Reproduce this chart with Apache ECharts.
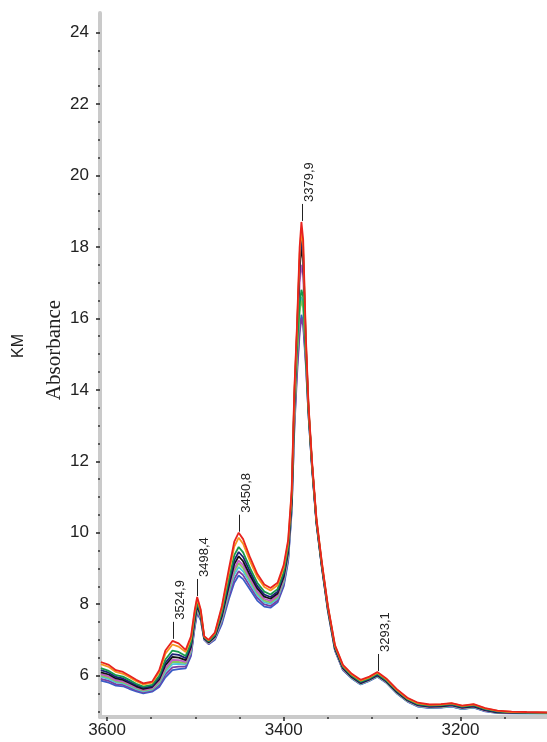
<!DOCTYPE html>
<html>
<head>
<meta charset="utf-8">
<script src="https://cdn.jsdelivr.net/npm/echarts@6/dist/echarts.min.js"></script>
<style>
html,body{margin:0;padding:0;background:#fff;}
#chart{width:547px;height:742px;}
</style>
</head>
<body>
<div id="chart"></div>
<script>
// ---- Data ----
const wavenumber = [3607,3598,3590,3582,3575,3567,3559,3549,3541,3534,3526,3519,3511,3505,3501,3498,3494,3490,3485,3478,3470,3462,3456,3451,3446,3438,3430,3422,3415,3407,3400,3395,3391,3388,3385,3382,3380,3378,3375,3372,3368,3363,3357,3350,3342,3333,3323,3313,3303,3294,3284,3272,3260,3248,3235,3222,3210,3198,3185,3172,3158,3142,3125,3102];

const sRed = [6.38,6.3,6.15,6.1,6.0,5.88,5.78,5.83,6.15,6.7,6.97,6.9,6.72,7.1,7.8,8.2,7.85,7.1,7.0,7.2,7.95,9.0,9.75,10.0,9.82,9.3,8.85,8.55,8.45,8.6,9.1,9.8,11.2,14.0,15.8,18.0,18.7,18.2,15.5,13.6,12.0,10.4,9.2,7.95,6.85,6.3,6.05,5.88,5.97,6.1,5.92,5.62,5.38,5.24,5.19,5.2,5.23,5.16,5.2,5.09,5.02,4.99,4.98,4.97];
const sOrange = [6.32,6.24,6.1,6.05,5.96,5.84,5.75,5.8,6.09,6.61,6.87,6.81,6.66,7.03,7.74,8.15,7.81,7.09,6.99,7.18,7.89,8.9,9.61,9.86,9.69,9.19,8.76,8.48,8.38,8.53,9.03,9.73,11.13,13.9,15.7,17.8,18.5,18.0,15.4,13.55,11.97,10.38,9.18,7.93,6.83,6.28,6.03,5.86,5.95,6.08,5.9,5.6,5.36,5.22,5.18,5.19,5.22,5.15,5.19,5.08,5.01,4.98,4.97,4.96];
const sGreen = [6.21,6.13,6.01,5.97,5.88,5.77,5.69,5.74,5.99,6.45,6.7,6.66,6.55,6.92,7.63,8.05,7.75,7.07,6.96,7.13,7.78,8.72,9.37,9.6,9.45,9.0,8.6,8.35,8.27,8.42,8.9,9.6,11.0,13.6,15.2,16.4,16.8,16.6,15.0,13.45,11.9,10.33,9.13,7.9,6.8,6.25,6.0,5.83,5.92,6.05,5.87,5.58,5.34,5.2,5.16,5.17,5.2,5.13,5.17,5.06,5.0,4.97,4.96,4.96];
const sNavy = [6.15,6.08,5.96,5.92,5.83,5.74,5.66,5.7,5.94,6.36,6.6,6.58,6.49,6.85,7.58,8.0,7.71,7.05,6.95,7.11,7.72,8.62,9.23,9.46,9.32,8.9,8.51,8.27,8.2,8.35,8.83,9.53,10.93,13.8,15.6,17.6,18.2,17.8,15.3,13.5,11.92,10.33,9.12,7.88,6.77,6.22,5.98,5.8,5.9,6.02,5.85,5.55,5.32,5.18,5.14,5.15,5.18,5.11,5.15,5.04,4.98,4.96,4.95,4.95];
const sBlack = [6.09,6.03,5.92,5.88,5.8,5.7,5.63,5.68,5.89,6.29,6.52,6.5,6.43,6.8,7.52,7.95,7.68,7.04,6.93,7.09,7.67,8.53,9.12,9.34,9.2,8.8,8.44,8.21,8.15,8.3,8.77,9.47,10.87,13.6,15.5,17.4,18.0,17.6,15.2,13.45,11.9,10.31,9.1,7.87,6.76,6.21,5.96,5.79,5.89,6.01,5.84,5.54,5.31,5.17,5.13,5.14,5.17,5.1,5.14,5.03,4.97,4.96,4.95,4.95];
const sMagenta = [6.04,5.98,5.87,5.84,5.76,5.67,5.6,5.65,5.85,6.21,6.44,6.43,6.38,6.74,7.48,7.91,7.66,7.03,6.92,7.07,7.63,8.45,9.0,9.22,9.09,8.72,8.36,8.15,8.09,8.24,8.71,9.41,10.81,13.4,15.3,17.0,17.5,17.2,15.1,13.4,11.88,10.3,9.09,7.85,6.74,6.19,5.95,5.78,5.88,6.0,5.83,5.53,5.3,5.16,5.12,5.13,5.16,5.09,5.13,5.02,4.97,4.95,4.95,4.95];
const sLightGreen = [6.0,5.94,5.84,5.81,5.74,5.65,5.58,5.63,5.81,6.16,6.38,6.38,6.35,6.7,7.44,7.88,7.63,7.03,6.91,7.06,7.59,8.39,8.92,9.14,9.01,8.65,8.31,8.1,8.05,8.2,8.67,9.37,10.77,13.2,14.9,16.2,16.5,16.3,15.0,13.38,11.86,10.29,9.08,7.84,6.73,6.18,5.94,5.77,5.87,5.99,5.82,5.52,5.29,5.15,5.11,5.12,5.15,5.08,5.12,5.02,4.96,4.95,4.95,4.94];
const sCyan = [5.97,5.9,5.81,5.78,5.71,5.62,5.56,5.61,5.78,6.1,6.32,6.33,6.31,6.66,7.4,7.84,7.61,7.02,6.9,7.04,7.55,8.32,8.83,9.04,8.92,8.58,8.25,8.05,8.01,8.16,8.62,9.32,10.72,13.3,15.0,16.3,16.6,16.4,14.95,13.36,11.84,10.28,9.07,7.83,6.72,6.17,5.93,5.76,5.86,5.98,5.81,5.51,5.28,5.14,5.1,5.11,5.14,5.07,5.11,5.01,4.96,4.95,4.94,4.94];
const sPurple = [5.91,5.85,5.76,5.74,5.67,5.59,5.53,5.58,5.73,6.03,6.23,6.25,6.25,6.6,7.35,7.8,7.58,7.01,6.89,7.02,7.5,8.23,8.71,8.92,8.81,8.49,8.18,7.99,7.95,8.1,8.56,9.26,10.66,12.9,14.4,15.6,16.0,15.8,14.7,13.3,11.82,10.26,9.06,7.82,6.71,6.16,5.93,5.76,5.86,5.98,5.81,5.51,5.28,5.14,5.1,5.11,5.14,5.07,5.11,5.01,4.96,4.95,4.95,4.95];
const sBlue = [5.86,5.8,5.72,5.7,5.63,5.56,5.5,5.55,5.68,5.95,6.15,6.18,6.2,6.55,7.3,7.75,7.55,7.0,6.88,7.0,7.45,8.15,8.6,8.8,8.7,8.4,8.1,7.93,7.9,8.05,8.5,9.2,10.6,13.0,14.6,15.7,16.1,15.9,14.8,13.3,11.8,10.25,9.05,7.8,6.7,6.15,5.92,5.75,5.85,5.97,5.8,5.5,5.27,5.13,5.09,5.1,5.13,5.06,5.1,5.0,4.95,4.94,4.94,4.94];

// tick values / labels
const yMajorTicks = [6,8,10,12,14,16,18,20,22,24];
const yMinorTicks = [5,5.5,6.5,7,7.5,8.5,9,9.5,10.5,11,11.5,12.5,13,13.5,14.5,15,15.5,16.5,17,17.5,18.5,19,19.5,20.5,21,21.5,22.5,23,23.5];
const xMajorTicks = [3600,3400,3200];
const xMinorTicks = [3550,3500,3450,3350,3300,3250,3150];

// peak annotations
const peakX = [3524.9,3498.4,3450.8,3379.9,3293.1];
const peakY = [7.0,8.2,10.0,18.7,6.1];
const peakLabels = ['3524,9','3498,4','3450,8','3379,9','3293,1'];

// draw order bottom -> top
const seriesList = [
  {name:'blue', data:sBlue, color:'#3a5cc6'},
  {name:'purple', data:sPurple, color:'#7b3fa3'},
  {name:'cyan', data:sCyan, color:'#4cc3dd'},
  {name:'lightgreen', data:sLightGreen, color:'#86c75a'},
  {name:'magenta', data:sMagenta, color:'#c45ac4'},
  {name:'black', data:sBlack, color:'#111111'},
  {name:'navy', data:sNavy, color:'#1c2274'},
  {name:'green', data:sGreen, color:'#16994c'},
  {name:'orange', data:sOrange, color:'#f7951e'},
  {name:'red', data:sRed, color:'#e8231e'}
];

const FONT = '"Liberation Sans", Arial, sans-serif';
const chart = echarts.init(document.getElementById('chart'), null, {renderer:'canvas'});
const plain = v => String(v);

chart.setOption({
  animation: false,
  backgroundColor: '#ffffff',
  grid: {left: 100, right: 0, top: 13, bottom: 25, containLabel: false},
  xAxis: [
    {
      type: 'value', inverse: true, min: 3102, max: 3608, position: 'bottom',
      axisLine: {show: true, lineStyle: {color: '#cacaca', width: 4}},
      axisTick: {show: true, customValues: xMajorTicks, length: 4, lineStyle: {color: '#222', width: 1.5}},
      axisLabel: {customValues: xMajorTicks, formatter: plain, color: '#222', fontSize: 17, fontFamily: FONT, margin: 5},
      splitLine: {show: false}
    },
    {
      type: 'value', inverse: true, min: 3102, max: 3608, position: 'bottom',
      axisLine: {show: false},
      axisTick: {show: true, customValues: xMinorTicks, length: 2, lineStyle: {color: '#333', width: 1.5}},
      axisLabel: {show: false},
      splitLine: {show: false}
    }
  ],
  yAxis: [
    {
      type: 'value', min: 4.84, max: 24.55, position: 'left',
      axisLine: {show: true, lineStyle: {color: '#cacaca', width: 4}},
      axisTick: {show: true, customValues: yMajorTicks, length: 4, lineStyle: {color: '#222', width: 1.5}},
      axisLabel: {customValues: yMajorTicks, formatter: plain, color: '#222', fontSize: 17, fontFamily: FONT, margin: 11},
      splitLine: {show: false}
    },
    {
      type: 'value', min: 4.84, max: 24.55, position: 'left', offset: 0,
      axisLine: {show: false},
      axisTick: {show: true, customValues: yMinorTicks, length: 2, lineStyle: {color: '#333', width: 1.5}},
      axisLabel: {show: false},
      splitLine: {show: false}
    }
  ],
  series: seriesList.map(s => ({
    type: 'line',
    name: s.name,
    xAxisIndex: 0,
    yAxisIndex: 0,
    showSymbol: false,
    symbol: 'none',
    smooth: false,
    lineStyle: {color: s.color, width: 1.8},
    itemStyle: {color: s.color},
    data: wavenumber.map((w, i) => [w, s.data[i]])
  }))
});

// annotations built from data coordinates via the chart's own scales
const graphics = [];
const LEAD = 17;
peakX.forEach((px, i) => {
  const p = chart.convertToPixel({xAxisIndex: 0, yAxisIndex: 0}, [px, peakY[i]]);
  const x = Math.round(p[0]) + 0.5;
  const yBottom = p[1] - 1;
  const yTop = yBottom - LEAD;
  graphics.push({
    type: 'line', silent: true,
    shape: {x1: x, y1: yBottom, x2: x, y2: yTop},
    style: {stroke: '#222', lineWidth: 1}
  });
  graphics.push({
    type: 'text', silent: true,
    x: x + 6.5, y: yTop - 2, rotation: Math.PI / 2,
    style: {text: peakLabels[i], fontSize: 13, fontFamily: FONT, fill: '#222', align: 'left', verticalAlign: 'middle'}
  });
});
graphics.push({
  type: 'text', silent: true, x: 19, y: 346, rotation: Math.PI / 2,
  style: {text: 'KM', fontSize: 16, fontFamily: FONT, fill: '#222', align: 'center', verticalAlign: 'middle'}
});
graphics.push({
  type: 'text', silent: true, x: 54, y: 350, rotation: Math.PI / 2,
  style: {text: 'Absorbance', fontSize: 21, fontFamily: '"Liberation Serif", "Times New Roman", serif', fill: '#222', align: 'center', verticalAlign: 'middle'}
});
chart.setOption({graphic: graphics});
</script>
</body>
</html>
